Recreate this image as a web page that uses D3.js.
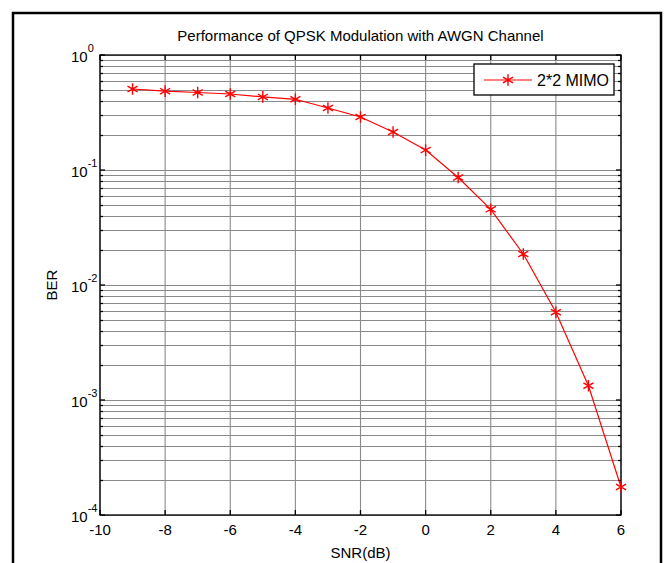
<!DOCTYPE html>
<html>
<head>
<meta charset="utf-8">
<script src="https://cdn.jsdelivr.net/npm/d3@7"></script>
<style>
  body { margin: 0; background: #fff; }
  text { font-family: "Liberation Sans", Arial, sans-serif; fill: #000; }
</style>
</head>
<body>
<div id="chart"></div>
<script>
var svgWidth = 670;
var svgHeight = 563;

var margin = { top: 55, right: 49, bottom: 48, left: 100 };
var width = 621 - margin.left;
var height = 515 - margin.top;

// data
var snrValues = [-9, -8, -7, -6, -5, -4, -3, -2, -1, 0, 1, 2, 3, 4, 5, 6];
var berValues = [0.506, 0.485, 0.472, 0.458, 0.432, 0.412, 0.346, 0.289, 0.214, 0.149,
                 0.086, 0.0455, 0.0186, 0.0058, 0.00133, 0.000175];
var xTicks = [-10, -8, -6, -4, -2, 0, 2, 4, 6];
var yDecades = [-4, -3, -2, -1, 0];
var seriesName = "2*2 MIMO";

var svg = d3.select("#chart")
  .append("svg")
  .attr("width", svgWidth)
  .attr("height", svgHeight);

// outer black frame
svg.append("rect")
  .attr("x", 13).attr("y", 13)
  .attr("width", 648).attr("height", 580)
  .attr("fill", "none")
  .attr("stroke", "#000")
  .attr("stroke-width", 2.5);

var chartGroup = svg.append("g")
  .attr("transform", `translate(${margin.left}, ${margin.top})`);

var xScale = d3.scaleLinear().domain([-10, 6]).range([0, width]);
var yScale = d3.scaleLog().domain([1e-4, 1]).range([height, 0]);

// minor log ticks 2..9 of each decade
var minorTicks = [];
yDecades.slice(0, -1).forEach(function(e) {
  for (var k = 2; k <= 9; k++) minorTicks.push(k * Math.pow(10, e));
});
var majorY = yDecades.map(e => Math.pow(10, e));

// grid
var grid = chartGroup.append("g");
grid.selectAll(".vgrid")
  .data(xTicks)
  .enter().append("line")
  .attr("x1", d => xScale(d)).attr("x2", d => xScale(d))
  .attr("y1", 0).attr("y2", height)
  .attr("stroke", "#8a8a8a").attr("stroke-width", 1.1);
grid.selectAll(".hgrid")
  .data(minorTicks.concat(majorY))
  .enter().append("line")
  .attr("x1", 0).attr("x2", width)
  .attr("y1", d => Math.round(yScale(d)) + 0.5).attr("y2", d => Math.round(yScale(d)) + 0.5)
  .attr("stroke", "#8a8a8a").attr("stroke-width", 1.1);

// axes box
chartGroup.append("rect")
  .attr("x", 0).attr("y", 0)
  .attr("width", width).attr("height", height)
  .attr("fill", "none")
  .attr("stroke", "#000")
  .attr("stroke-width", 1.3);

// inward ticks on all four sides
var ticks = chartGroup.append("g").attr("stroke", "#000").attr("stroke-width", 1.3);
xTicks.forEach(function(d) {
  var x = xScale(d);
  ticks.append("line").attr("x1", x).attr("x2", x).attr("y1", height).attr("y2", height - 5);
  ticks.append("line").attr("x1", x).attr("x2", x).attr("y1", 0).attr("y2", 5);
});
majorY.forEach(function(d) {
  var y = yScale(d);
  ticks.append("line").attr("x1", 0).attr("x2", 5).attr("y1", y).attr("y2", y);
  ticks.append("line").attr("x1", width).attr("x2", width - 5).attr("y1", y).attr("y2", y);
});
minorTicks.forEach(function(d) {
  var y = Math.round(yScale(d)) + 0.5;
  ticks.append("line").attr("x1", 0).attr("x2", 3).attr("y1", y).attr("y2", y);
  ticks.append("line").attr("x1", width).attr("x2", width - 3).attr("y1", y).attr("y2", y);
});

// x tick labels
chartGroup.selectAll(".xlabel")
  .data(xTicks)
  .enter().append("text")
  .attr("x", d => xScale(d))
  .attr("y", height + 20)
  .attr("text-anchor", "middle")
  .style("font-size", "15px")
  .text(d => d);

// y tick labels 10^n
var yLab = chartGroup.selectAll(".ylabel")
  .data(yDecades)
  .enter().append("text")
  .attr("x", -29)
  .attr("y", d => yScale(Math.pow(10, d)) + 7)
  .style("font-size", "15px");
yLab.append("tspan").text("10");
yLab.append("tspan")
  .attr("dy", -10)
  .style("font-size", "11px")
  .text(d => d);

// title and axis labels
svg.append("text")
  .attr("x", margin.left + width / 2)
  .attr("y", 41)
  .attr("text-anchor", "middle")
  .style("font-size", "15px")
  .text("Performance of QPSK Modulation with AWGN Channel");

svg.append("text")
  .attr("x", margin.left + width / 2)
  .attr("y", 558)
  .attr("text-anchor", "middle")
  .style("font-size", "15px")
  .text("SNR(dB)");

svg.append("text")
  .attr("transform", `translate(57, ${margin.top + height / 2}) rotate(-90)`)
  .attr("text-anchor", "middle")
  .style("font-size", "15px")
  .text("BER");

// series line and markers
var line = d3.line()
  .x((d, i) => xScale(snrValues[i]))
  .y(d => yScale(d));

chartGroup.append("path")
  .datum(berValues)
  .attr("d", line)
  .attr("fill", "none")
  .attr("stroke", "#ff0000")
  .attr("stroke-width", 1.2);

var star = d3.symbol().type(d3.symbolAsterisk).size(95);
chartGroup.selectAll(".marker")
  .data(berValues)
  .enter().append("path")
  .attr("transform", (d, i) => `translate(${xScale(snrValues[i])}, ${yScale(d)})`)
  .attr("d", star)
  .attr("fill", "none")
  .attr("stroke", "#ff0000")
  .attr("stroke-width", 1.4);

// legend
var legend = svg.append("g").attr("transform", "translate(474, 64)");
legend.append("rect")
  .attr("width", 140).attr("height", 31)
  .attr("fill", "#fff")
  .attr("stroke", "#000")
  .attr("stroke-width", 1.3);
legend.append("line")
  .attr("x1", 10).attr("x2", 58)
  .attr("y1", 16).attr("y2", 16)
  .attr("stroke", "#ff0000").attr("stroke-width", 1.2);
legend.append("path")
  .attr("transform", "translate(34, 16)")
  .attr("d", star)
  .attr("fill", "none")
  .attr("stroke", "#ff0000")
  .attr("stroke-width", 1.4);
legend.append("text")
  .attr("x", 63).attr("y", 22)
  .style("font-size", "16px")
  .text(seriesName);
</script>
</body>
</html>
